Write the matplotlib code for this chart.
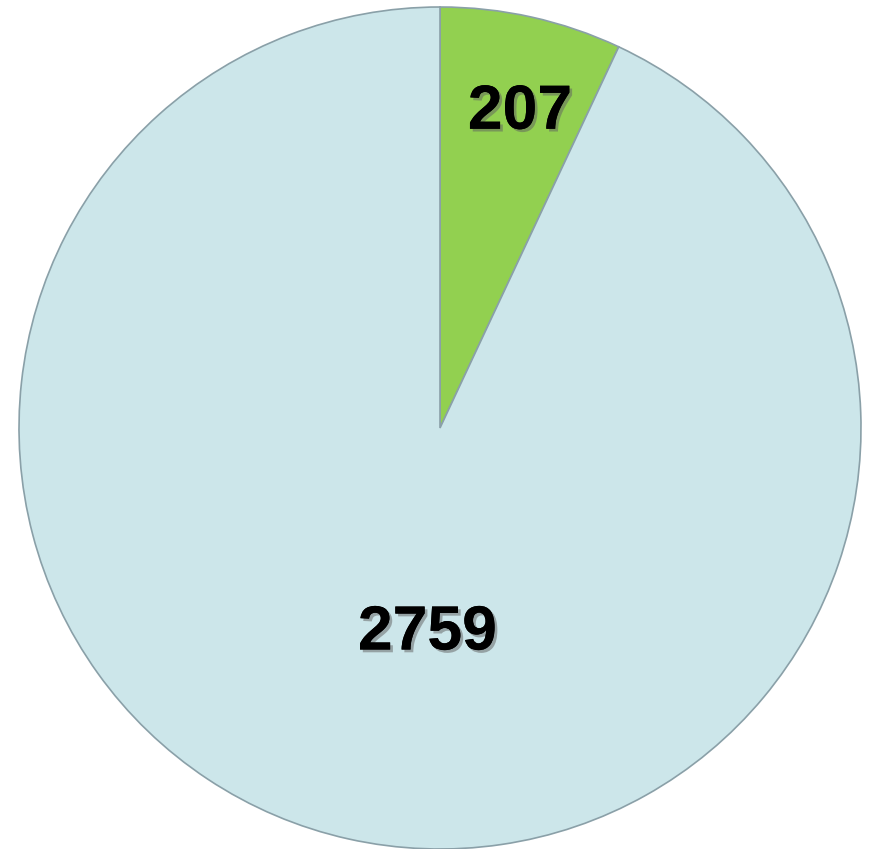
import matplotlib
matplotlib.use("Agg")
from matplotlib import pyplot as plt
import matplotlib.patheffects as pe

# slice values, drawn clockwise from 12 o'clock
values = [207, 2759]
labels = ["207", "2759"]
colors = ["#92D050", "#CCE6EA"]

# label positions in pie units (centre 0,0, radius 1)
label_pos = [(0.19, 0.75), (-0.03, -0.487)]

fig = plt.figure(figsize=(8.69, 8.49), dpi=100)
w, h = 869, 849
cx, cy, r = 440, 428, 421
ax = fig.add_axes([(cx - r) / w, (h - cy - r) / h, 2 * r / w, 2 * r / h])

ax.pie(
    values,
    colors=colors,
    startangle=90,
    counterclock=False,
    radius=1,
    wedgeprops=dict(edgecolor="#8AA0A8", linewidth=1.2),
)
ax.set_xlim(-1, 1)
ax.set_ylim(-1, 1)
ax.set_aspect("equal")
ax.axis("off")

shadow = [pe.withSimplePatchShadow(offset=(2, -2), shadow_rgbFace="#606060", alpha=0.5), pe.Normal()]
for txt, (x, y) in zip(labels, label_pos):
    ax.text(x, y, txt, ha="center", va="center", fontsize=45, fontweight="bold",
            family="Liberation Sans", color="black", path_effects=shadow)

fig.savefig("out.png", dpi=100)
